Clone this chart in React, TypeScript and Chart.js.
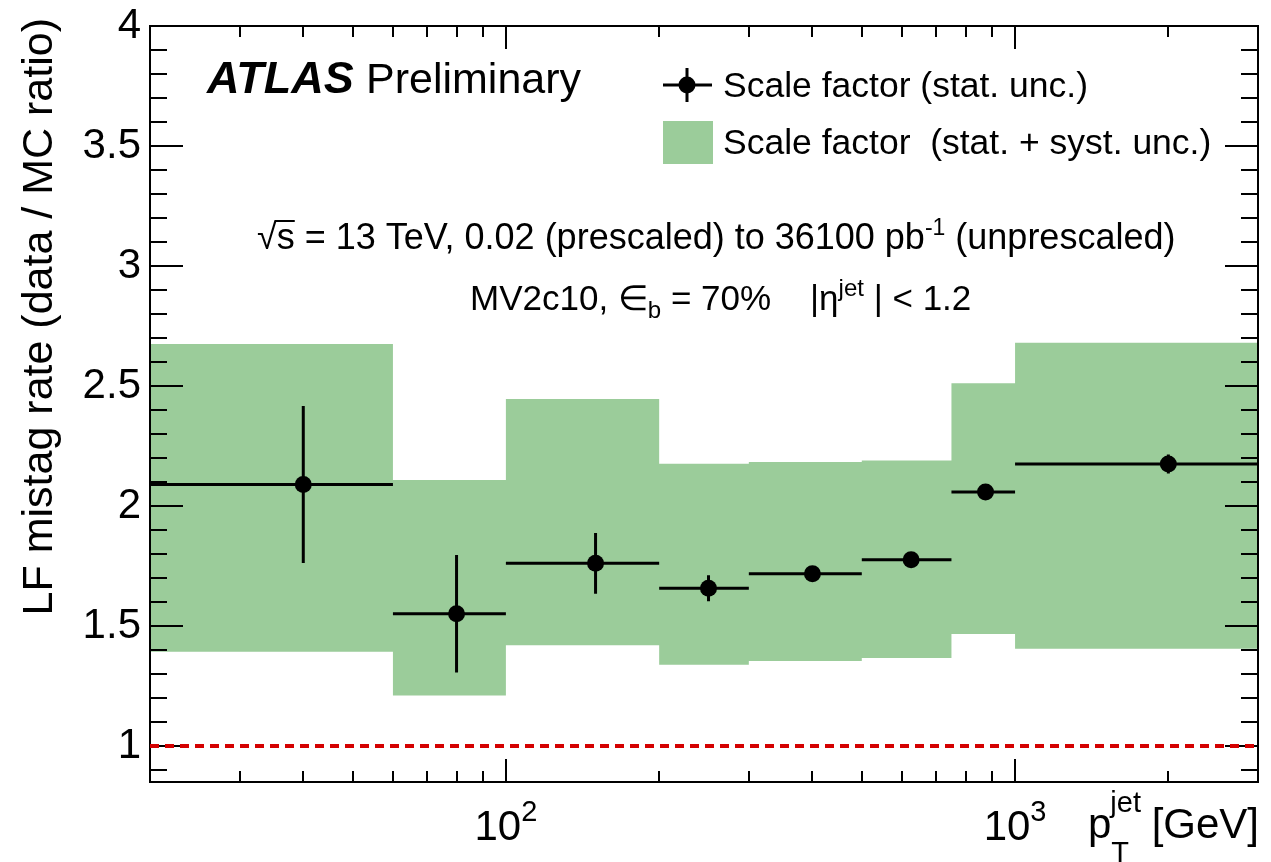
import React, { useEffect, useRef } from "react";
import { Chart, registerables } from "chart.js";

Chart.register(...registerables);

// ---- data ----
const binEdges = [20, 60, 100, 200, 300, 500, 750, 1000, 3000];
const binCenters = [40, 80, 150, 250, 400, 625, 875, 2000];
const scaleFactor = [2.09, 1.551, 1.761, 1.657, 1.718, 1.776, 2.058, 2.175];
const statUnc = [0.327, 0.245, 0.127, 0.054, 0.02, 0.02, 0.02, 0.04];
const totalUp = [2.675, 2.108, 2.446, 2.176, 2.183, 2.19, 2.511, 2.68];
const totalDown = [1.393, 1.21, 1.42, 1.339, 1.354, 1.367, 1.467, 1.405];
const yMajorTicks = [1, 1.5, 2, 2.5, 3, 3.5, 4];
const yTickLabels = ["1", "1.5", "2", "2.5", "3", "3.5", "4"];
const xMajorTicks = [100, 1000];
const xTickExponents = ["2", "3"];
const xMinorTicks = [20, 30, 40, 50, 60, 70, 80, 90, 200, 300, 400, 500, 600, 700, 800, 900, 2000];
const referenceLine = [1, 1];

const FONT = '"Liberation Sans", Arial, Helvetica, sans-serif';
const GREEN = "rgb(155,204,154)";

type Run = { t: string; size: number; dy?: number; style?: string };

function drawRuns(ctx: CanvasRenderingContext2D, x: number, y: number, runs: Run[]) {
  let cx = x;
  const pos: number[] = [];
  for (const r of runs) {
    ctx.font = `${r.style ?? ""} ${r.size}px ${FONT}`;
    pos.push(cx);
    ctx.fillText(r.t, cx, y + (r.dy ?? 0));
    cx += ctx.measureText(r.t).width;
  }
  pos.push(cx);
  return pos;
}

const decor = {
  id: "decor",
  beforeDraw(chart: any) {
    const ctx = chart.ctx;
    ctx.save();
    ctx.fillStyle = "#fff";
    ctx.fillRect(0, 0, chart.width, chart.height);
    ctx.restore();
  },
  afterDatasetDraw(chart: any, args: any) {
    if (args.index !== 0) return;
    const ctx: CanvasRenderingContext2D = chart.ctx;
    const { left, right, top, bottom } = chart.chartArea;
    const xs = chart.scales.x;
    const ys = chart.scales.y;
    ctx.save();
    ctx.strokeStyle = "#000";
    ctx.lineWidth = 2;
    ctx.beginPath();
    ctx.rect(left, top, right - left, bottom - top);
    ctx.stroke();
    ctx.beginPath();
    // y ticks
    for (let k = 9; k <= 40; k++) {
      const v = k / 10;
      const py = Math.round(ys.getPixelForValue(v));
      const major = k % 5 === 0;
      const len = major ? 33 : 17;
      ctx.moveTo(left, py);
      ctx.lineTo(left + len, py);
      ctx.moveTo(right, py);
      ctx.lineTo(right - len, py);
    }
    // x ticks
    const xt = [...xMinorTicks.map((v) => [v, 11]), ...xMajorTicks.map((v) => [v, 23])];
    for (const [v, len] of xt) {
      const px = Math.round(xs.getPixelForValue(v));
      ctx.moveTo(px, bottom);
      ctx.lineTo(px, bottom - len);
      ctx.moveTo(px, top);
      ctx.lineTo(px, top + len);
    }
    ctx.stroke();
    ctx.restore();
  },
  afterDraw(chart: any) {
    const ctx: CanvasRenderingContext2D = chart.ctx;
    const xs = chart.scales.x;
    const ys = chart.scales.y;
    ctx.save();
    ctx.fillStyle = "#000";
    // y tick labels
    ctx.font = `42px ${FONT}`;
    ctx.textAlign = "right";
    ctx.textBaseline = "middle";
    yMajorTicks.forEach((v, i) => {
      ctx.fillText(yTickLabels[i], 141, ys.getPixelForValue(v));
    });
    // x tick labels
    ctx.textAlign = "left";
    ctx.textBaseline = "alphabetic";
    xMajorTicks.forEach((v, i) => {
      ctx.font = `42px ${FONT}`;
      const w1 = ctx.measureText("10").width;
      ctx.font = `29px ${FONT}`;
      const w2 = ctx.measureText(xTickExponents[i]).width;
      const px = xs.getPixelForValue(v);
      drawRuns(ctx, px - (w1 + w2) / 2, 840, [
        { t: "10", size: 42 },
        { t: xTickExponents[i], size: 29, dy: -19 },
      ]);
    });
    // x title
    {
      ctx.font = `42px ${FONT}`;
      const wp = ctx.measureText("p").width;
      const x0 = 1088;
      ctx.fillText("p", x0, 838);
      ctx.font = `29px ${FONT}`;
      ctx.fillText("jet", x0 + wp - 1, 812);
      ctx.fillText("T", x0 + wp, 862);
      const wj = ctx.measureText("jet").width;
      ctx.font = `42px ${FONT}`;
      ctx.fillText(" [GeV]", x0 + wp + wj - 2, 838);
    }
    // y title
    ctx.save();
    ctx.translate(52, 18);
    ctx.rotate(-Math.PI / 2);
    ctx.textAlign = "right";
    ctx.font = `43px ${FONT}`;
    ctx.fillText("LF mistag rate (data / MC ratio)", 0, 0);
    ctx.restore();

    // ATLAS label
    ctx.textAlign = "left";
    drawRuns(ctx, 207, 93, [{ t: "ATLAS", size: 45, style: "italic bold" }]);
    drawRuns(ctx, 366, 93, [{ t: "Preliminary", size: 43 }]);

    // legend
    ctx.strokeStyle = "#000";
    ctx.lineWidth = 3;
    ctx.beginPath();
    ctx.moveTo(663, 85);
    ctx.lineTo(712, 85);
    ctx.moveTo(687, 68);
    ctx.lineTo(687, 102);
    ctx.stroke();
    ctx.beginPath();
    ctx.arc(687, 85, 8.5, 0, Math.PI * 2);
    ctx.fill();
    ctx.fillStyle = GREEN;
    ctx.fillRect(663, 121, 50, 43);
    ctx.fillStyle = "#000";
    drawRuns(ctx, 723, 97, [{ t: "Scale factor (stat. unc.)", size: 35.5 }]);
    drawRuns(ctx, 723, 154, [{ t: "Scale factor  (stat. + syst. unc.)", size: 35.5 }]);

    // line 1
    const p1 = drawRuns(ctx, 257, 249, [
      { t: "\u221A", size: 36 },
      { t: "s", size: 36 },
      { t: " = 13 TeV, 0.02 (prescaled) to 36100 pb", size: 36 },
      { t: "-1", size: 23, dy: -14 },
      { t: " (unprescaled)", size: 36 },
    ]);
    ctx.lineWidth = 2;
    ctx.beginPath();
    ctx.moveTo(p1[1] - 2, 249 - 28);
    ctx.lineTo(p1[2], 249 - 28);
    ctx.stroke();

    // line 2
    drawRuns(ctx, 470, 310, [
      { t: "MV2c10,", size: 35 },
      { t: " \u2208", size: 35 },
      { t: "b", size: 24, dy: 8 },
      { t: " = 70%    |\u03B7", size: 35 },
      { t: "jet", size: 24, dy: -14 },
      { t: " | < 1.2", size: 35 },
    ]);
    ctx.restore();
  },
};

export default function App() {
  const ref = useRef<HTMLCanvasElement | null>(null);
  useEffect(() => {
    if (!ref.current) return;
    const n = totalUp.length;
    const upper = binEdges.map((e, i) => ({ x: e, y: totalUp[Math.min(i, n - 1)] }));
    const lower = binEdges.map((e, i) => ({ x: e, y: totalDown[Math.min(i, n - 1)] }));
    const errs: { x: number; y: number | null }[] = [];
    scaleFactor.forEach((v, i) => {
      errs.push({ x: binEdges[i], y: v }, { x: binEdges[i + 1], y: v }, { x: binEdges[i + 1], y: null });
      errs.push({ x: binCenters[i], y: v - statUnc[i] }, { x: binCenters[i], y: v + statUnc[i] }, { x: binCenters[i], y: null });
    });
    const pts = binCenters.map((c, i) => ({ x: c, y: scaleFactor[i] }));
    const ref1 = [
      { x: binEdges[0], y: referenceLine[0] },
      { x: binEdges[binEdges.length - 1], y: referenceLine[1] },
    ];
    const chart = new Chart(ref.current, {
      type: "line",
      data: {
        datasets: [
          {
            data: upper,
            stepped: "before",
            fill: "+1",
            backgroundColor: GREEN,
            borderColor: "rgba(0,0,0,0)",
            borderWidth: 1,
            pointRadius: 0,
            order: 10,
          } as any,
          {
            data: lower,
            stepped: "before",
            fill: false,
            borderColor: "rgba(0,0,0,0)",
            borderWidth: 1,
            pointRadius: 0,
            order: 11,
          } as any,
          {
            data: ref1,
            borderColor: "#d40000",
            borderWidth: 4,
            borderDash: [9, 6],
            pointRadius: 0,
            fill: false,
            order: 5,
          } as any,
          {
            data: errs,
            borderColor: "#000",
            borderWidth: 3,
            borderCapStyle: "butt",
            pointRadius: 0,
            spanGaps: false,
            fill: false,
            order: 2,
          } as any,
          {
            data: pts,
            showLine: false,
            pointRadius: 8.5,
            pointBackgroundColor: "#000",
            pointBorderWidth: 0,
            borderColor: "#000",
            fill: false,
            order: 1,
          } as any,
        ],
      },
      options: {
        animation: false,
        responsive: false,
        devicePixelRatio: 1,
        layout: { padding: { left: 150, right: 13, top: 26, bottom: 80 } },
        scales: {
          x: { type: "logarithmic", min: 20, max: 3000, display: false },
          y: { type: "linear", min: 0.85, max: 4, display: false },
        },
        plugins: { legend: { display: false }, tooltip: { enabled: false } },
        elements: { line: { tension: 0 } },
      } as any,
      plugins: [decor as any],
    });
    return () => chart.destroy();
  }, []);
  return (
    <div style={{ position: "absolute", left: 0, top: 0, width: 1271, height: 862 }}>
      <canvas ref={ref} width={1271} height={862} style={{ display: "block" }} />
    </div>
  );
}
